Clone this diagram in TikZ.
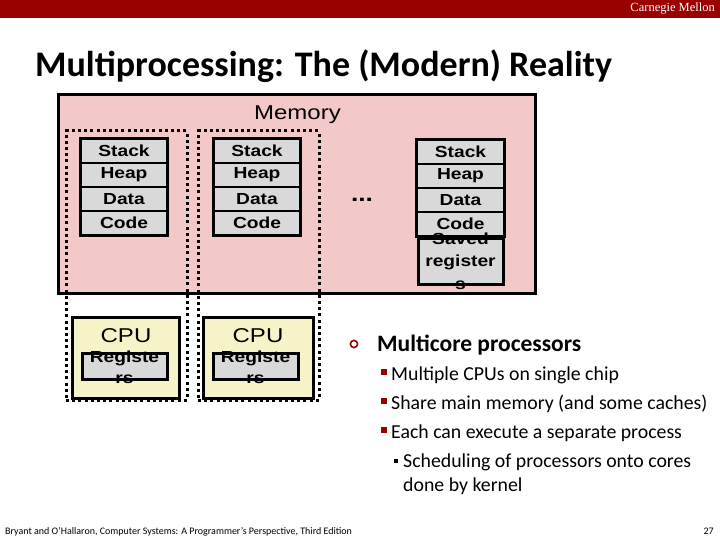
\documentclass[tikz,border=0pt]{standalone}
\usepackage{fontspec}
\setmainfont{Carlito}
\newfontfamily\arialw[FakeStretch=1.2]{Liberation Sans}
\newfontfamily\cmfont{Liberation Serif}
\definecolor{cmured}{RGB}{153,0,0}
\definecolor{mempink}{RGB}{242,200,200}
\definecolor{cellgray}{RGB}{217,217,217}
\definecolor{cpuyellow}{RGB}{246,243,200}
\tikzset{
  cell/.style={draw, fill=cellgray, line width=1.5pt, minimum width=86pt, minimum height=24pt, inner sep=0pt,
    font=\arialw\bfseries\fontsize{16}{17}\selectfont},
  outerbox/.style={draw, line width=3pt},
  dotbox/.style={draw, line width=3pt, dash pattern=on 3pt off 3.2pt},
  bigtext/.style={font=\arialw\fontsize{20}{22}\selectfont, inner sep=0pt},
  boxtext/.style={font=\arialw\bfseries\fontsize{16}{21}\selectfont, align=center, inner sep=0pt},
  lvlone/.style={anchor=base west, inner sep=0pt, font=\bfseries\fontsize{23.5}{26}\selectfont},
  lvltwo/.style={anchor=base west, inner sep=0pt, font=\fontsize{19.8}{22}\selectfont},
  sqbullet/.style={fill=cmured, minimum size=5.5pt, inner sep=0pt},
  smallsq/.style={fill=black, minimum size=4.5pt, inner sep=0pt}
}
\begin{document}
\begin{tikzpicture}[x=1pt,y=-1pt]
\useasboundingbox (0,0) rectangle (720,540);
% header
\fill[cmured] (0,0) rectangle (720,18);
\node[anchor=east, text=white, inner sep=0pt, font=\cmfont\fontsize{12.5}{13}\selectfont] (cm) at (715,9) {Carnegie Mellon};
\node[anchor=base west, inner sep=0pt, font=\bfseries\fontsize{36}{40}\selectfont] (title) at (35,77) {Multiprocessing: The (Modern) Reality};
% memory
\node[draw, fill=mempink, line width=3pt, minimum width=477pt, minimum height=198pt, inner sep=0pt] (mem) at (296.5,194) {};
\node[bigtext, anchor=east] (memlbl) at (341,115) {Memory};
% processes (dotted)
\node[dotbox, minimum width=121pt, minimum height=269pt, inner sep=0pt] (p1) at (126.5,265.5) {};
\node[dotbox, minimum width=121pt, minimum height=269pt, inner sep=0pt] (p2) at (258.5,265.5) {};
% stack 1
\node[cell] (s1) at (124,151) {Stack};
\node[cell] (h1) at (124,175) {Heap};
\node[cell] (d1) at (124,199) {Data};
\node[cell] (c1) at (124,223) {Code};
\draw[outerbox] (s1.north west) rectangle (c1.south east);
% stack 2
\node[cell] (s2) at (257,151) {Stack};
\node[cell] (h2) at (257,175) {Heap};
\node[cell] (d2) at (257,199) {Data};
\node[cell] (c2) at (257,223) {Code};
\draw[outerbox] (s2.north west) rectangle (c2.south east);
% stack 3
\node[cell] (s3) at (460.5,152) {Stack};
\node[cell] (h3) at (460.5,176) {Heap};
\node[cell] (d3) at (460.5,200) {Data};
\node[cell] (c3) at (460.5,224) {Code};
\draw[outerbox] (s3.north west) rectangle (c3.south east);
\node[draw, fill=cellgray, line width=3pt, minimum width=85pt, minimum height=46pt, inner sep=0pt] (sr) at (460.5,261) {};
\node[boxtext, font=\arialw\bfseries\fontsize{16}{22.5}\selectfont] (srt) at (sr.center) {Saved\\register\\s};
% dots
\node[bigtext, font=\arialw\bfseries\fontsize{22}{22}\selectfont] (ell) at (362,200) {...};
% CPUs
\node[draw, fill=cpuyellow, line width=3pt, minimum width=107pt, minimum height=81pt, inner sep=0pt] (cpu1) at (125.5,357.5) {};
\node[draw, fill=cpuyellow, line width=3pt, minimum width=110pt, minimum height=81pt, inner sep=0pt] (cpu2) at (258,357.5) {};
\node[bigtext] (cpu1t) at (126,336) {CPU};
\node[bigtext] (cpu2t) at (258,336) {CPU};
\node[draw, fill=cellgray, line width=3pt, minimum width=85pt, minimum height=26pt, inner sep=0pt] (r1) at (124.5,366) {};
\node[draw, fill=cellgray, line width=3pt, minimum width=85pt, minimum height=26pt, inner sep=0pt] (r2) at (255.5,366) {};
\node[boxtext] (r1t) at (124.5,367.5) {Registe\\rs};
\node[boxtext] (r2t) at (255.5,367.5) {Registe\\rs};
% bullets
\draw[cmured, line width=1.6pt] (354,344) circle (3.6pt);
\node[lvlone] (b1) at (377,351) {Multicore processors};
\node[sqbullet] (q1) at (384,372) {};
\node[lvltwo] (b2) at (391,380) {Multiple CPUs on single chip};
\node[sqbullet] (q2) at (384,401) {};
\node[lvltwo] (b3) at (391,409) {Share main memory (and some caches)};
\node[sqbullet] (q3) at (384,430) {};
\node[lvltwo] (b4) at (391,438) {Each can execute a separate process};
\node[smallsq] (q4) at (396,461) {};
\node[lvltwo] (b5) at (403,467) {Scheduling of processors onto cores};
\node[lvltwo] (b6) at (403,491) {done by kernel};
% footer
\node[anchor=base west, inner sep=0pt, font=\fontsize{10}{11}\selectfont] (foot) at (5,534) {Bryant and O’Hallaron, Computer Systems: A Programmer’s Perspective, Third Edition};
\node[anchor=base east, inner sep=0pt, font=\fontsize{10}{11}\selectfont] (pg) at (714,534) {27};
\end{tikzpicture}
\end{document}
